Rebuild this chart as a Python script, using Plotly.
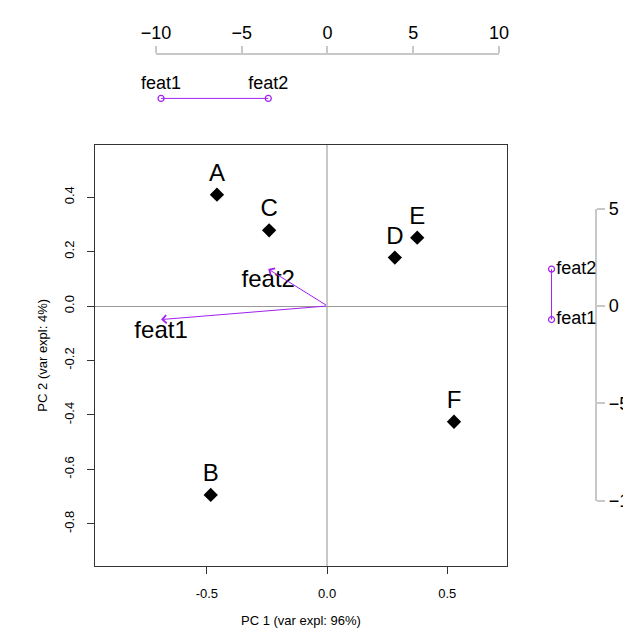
import plotly.graph_objects as go

W, H = 631, 639

# ---- data ----
samples = ["A", "B", "C", "D", "E", "F"]
pc1 = [-0.458, -0.484, -0.241, 0.282, 0.375, 0.528]
pc2 = [0.409, -0.694, 0.278, 0.178, 0.251, -0.425]

features = ["feat1", "feat2"]
load1 = [-9.70, -3.45]
load2 = [-0.70, 1.89]

x_ticks = [-0.5, 0.0, 0.5]
x_ticklabels = ["-0.5", "0.0", "0.5"]
y_ticks = [-0.8, -0.6, -0.4, -0.2, 0.0, 0.2, 0.4]
y_ticklabels = ["-0.8", "-0.6", "-0.4", "-0.2", "0.0", "0.2", "0.4"]
top_ticks = [-10, -5, 0, 5, 10]
right_ticks = [-10, -5, 0, 5]

x_title = "PC 1 (var expl: 96%)"
y_title = "PC 2 (var expl: 4%)"

FONT = "Liberation Sans, Arial, Helvetica, sans-serif"
PURPLE = "#A020F0"

def px_x(p):
    return p / W

def px_y(p):
    return 1 - p / H

fig = go.Figure()

# samples
fig.add_trace(go.Scatter(
    x=pc1, y=pc2, xaxis="x", yaxis="y",
    mode="markers+text", text=samples, textposition="top center",
    textfont=dict(size=24, color="black", family=FONT),
    marker=dict(symbol="diamond", size=11, color="black"),
    cliponaxis=False, showlegend=False, hoverinfo="skip",
))

# feature labels in main plot (loading scale)
fig.add_trace(go.Scatter(
    x=load1, y=load2, xaxis="x2", yaxis="y2",
    mode="text", text=features, textposition="bottom center",
    textfont=dict(size=24, color="black", family=FONT),
    cliponaxis=False, showlegend=False, hoverinfo="skip",
))

# top strip
fig.add_trace(go.Scatter(
    x=load1, y=[0.5] * len(load1), xaxis="x2", yaxis="y3",
    mode="lines+markers+text", text=features, textposition="top center",
    textfont=dict(size=18, color="black", family=FONT),
    line=dict(color=PURPLE, width=1),
    marker=dict(symbol="circle-open", size=6, color=PURPLE, line=dict(width=1.2)),
    cliponaxis=False, showlegend=False, hoverinfo="skip",
))

# right strip
fig.add_trace(go.Scatter(
    x=[0.5] * len(load2), y=load2, xaxis="x3", yaxis="y2",
    mode="lines+markers+text", text=features, textposition="middle right",
    textfont=dict(size=18, color="black", family=FONT),
    line=dict(color=PURPLE, width=1),
    marker=dict(symbol="circle-open", size=6, color=PURPLE, line=dict(width=1.2)),
    cliponaxis=False, showlegend=False, hoverinfo="skip",
))

annotations = []
for fx, fy in zip(load1, load2):
    annotations.append(dict(
        x=fx, y=fy, xref="x2", yref="y2",
        ax=0, ay=0, axref="x2", ayref="y2",
        showarrow=True, arrowhead=4, arrowsize=1.6, arrowwidth=1,
        arrowcolor=PURPLE, text="", standoff=0,
    ))

annotations.append(dict(
    x=px_x(291.5), y=px_y(622), xref="paper", yref="paper",
    text=x_title, showarrow=False, font=dict(size=13, color="black", family=FONT),
    xanchor="center", yanchor="middle",
))
annotations.append(dict(
    x=px_x(21), y=px_y(348.5), xref="paper", yref="paper",
    text=y_title, showarrow=False, textangle=-90,
    font=dict(size=13, color="black", family=FONT),
    xanchor="center", yanchor="middle",
))

fig.update_layout(
    width=W, height=H,
    margin=dict(l=0, r=0, t=0, b=0),
    paper_bgcolor="white", plot_bgcolor="rgba(0,0,0,0)",
    font=dict(family=FONT, color="black"),
    showlegend=False,
    annotations=annotations,
    xaxis=dict(
        domain=[px_x(75.3), px_x(507.7)], range=[-0.966, 0.75],
        anchor="y", tickvals=x_ticks, ticktext=x_ticklabels,
        ticks="outside", ticklen=7, tickcolor="#333", tickwidth=1,
        ticklabelstandoff=8,
        showline=True, mirror=True, linecolor="#333", linewidth=1.2,
        showgrid=False, zeroline=True, zerolinecolor="#c8c8c8", zerolinewidth=1.5,
        tickfont=dict(size=13, color="black", family=FONT),
    ),
    yaxis=dict(
        domain=[px_y(566), px_y(131)], range=[-0.956, 0.592],
        anchor="x", tickvals=y_ticks, ticktext=y_ticklabels,
        ticks="outside", ticklen=7, tickcolor="#333", tickwidth=1,
        tickangle=-90, ticklabelstandoff=8,
        showline=True, mirror=True, linecolor="#333", linewidth=1.2,
        showgrid=False, zeroline=True, zerolinecolor="#999999", zerolinewidth=1,
        tickfont=dict(size=13, color="black", family=FONT),
    ),
    xaxis2=dict(
        domain=[px_x(139.3), px_x(499)], range=[-10, 10],
        anchor="free", position=px_y(36.7), side="top",
        tickvals=top_ticks, ticks="outside", ticklen=7,
        tickcolor="#c8c8c8", tickwidth=1.5,
        showline=True, linecolor="#c8c8c8", linewidth=1.5,
        showgrid=False, zeroline=False,
        tickfont=dict(size=18, color="black", family=FONT),
    ),
    yaxis2=dict(
        domain=[px_y(498.3), px_y(196.7)], range=[-10, 5],
        anchor="free", position=px_x(601), side="right",
        tickvals=right_ticks, ticks="outside", ticklen=8,
        tickcolor="#c8c8c8", tickwidth=1.5,
        showline=True, linecolor="#c8c8c8", linewidth=1.5,
        showgrid=False, zeroline=False,
        tickfont=dict(size=18, color="black", family=FONT),
    ),
    xaxis3=dict(
        domain=[px_x(544), px_x(564)], range=[0, 1],
        anchor="y2", visible=False, showgrid=False, zeroline=False,
    ),
    yaxis3=dict(
        domain=[px_y(90), px_y(76)], range=[0, 1],
        anchor="x2", visible=False, showgrid=False, zeroline=False,
    ),
)

fig.write_html("out.html")
